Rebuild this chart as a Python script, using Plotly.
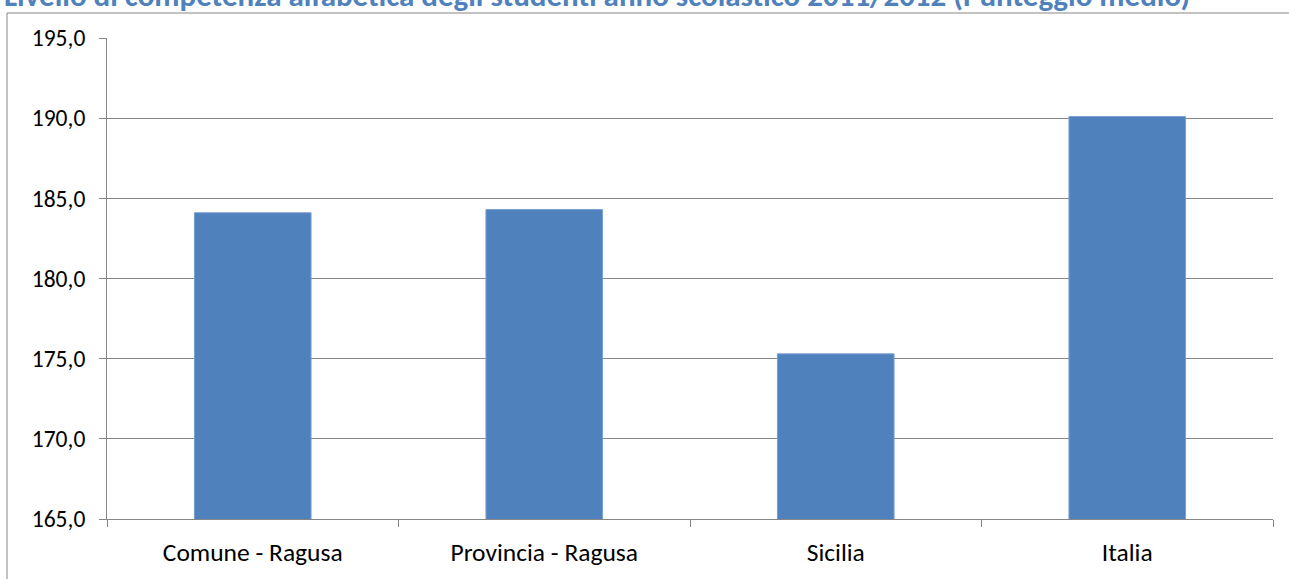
import plotly.graph_objects as go

categories = ["Comune - Ragusa", "Provincia - Ragusa", "Sicilia", "Italia"]
values = [184.1, 184.3, 175.3, 190.1]
y_ticks = [165, 170, 175, 180, 185, 190, 195]
title_text = "Livello di competenza alfabetica degli studenti anno scolastico 2011/2012 (Punteggio medio)"

W, H = 1289, 579
ml, mr, mt, mb = 107, 16, 38, 60
pw, ph = W - ml - mr, H - mt - mb

FONT = "Calibri, Carlito, Lato, sans-serif"
GRID = "#868686"

fig = go.Figure(go.Bar(
    x=categories, y=values,
    marker=dict(color="#4F81BD", line=dict(color="#7A9FD0", width=1)),
    width=0.4,
))

fig.update_layout(
    width=W, height=H,
    margin=dict(l=ml, r=mr, t=mt, b=mb),
    paper_bgcolor="white", plot_bgcolor="white",
    separators=",.",
    showlegend=False,
    font=dict(family=FONT, size=22, color="black"),
    xaxis=dict(
        type="category", tickson="boundaries", ticks="outside", ticklen=7,
        tickcolor=GRID, showline=True, linecolor=GRID, linewidth=1,
        showgrid=False, ticklabelstandoff=10,
        tickfont=dict(family=FONT, size=25.5, color="black"),
    ),
    yaxis=dict(
        range=[165, 195], tickvals=y_ticks, tickformat=".1f",
        ticks="outside", ticklen=7, tickcolor=GRID,
        showline=True, linecolor=GRID, linewidth=1,
        showgrid=True, gridcolor=GRID, gridwidth=1, zeroline=False,
        ticklabelstandoff=9,
        tickfont=dict(family=FONT, size=23.5, color="black"),
    ),
)

# clipped title at the very top
fig.add_annotation(text="<b>" + title_text + "</b>", showarrow=False,
                   xref="paper", yref="paper",
                   x=(2 - ml) / pw, xanchor="left",
                   y=(H - mb + 5) / ph, yanchor="middle",
                   font=dict(family=FONT, size=31, color="#4F81BD"))

# outer chart frame (partially visible)
fig.add_shape(type="rect", xref="paper", yref="paper",
              x0=(7 - ml) / pw, x1=(W + 10 - ml) / pw,
              y0=(H - mb - (H + 10)) / ph, y1=(H - mb - 13) / ph,
              line=dict(color=GRID, width=1), fillcolor="rgba(0,0,0,0)", layer="below")

fig.write_html("out.html", config={"displayModeBar": False},
               post_script="document.body.style.margin='0';")
